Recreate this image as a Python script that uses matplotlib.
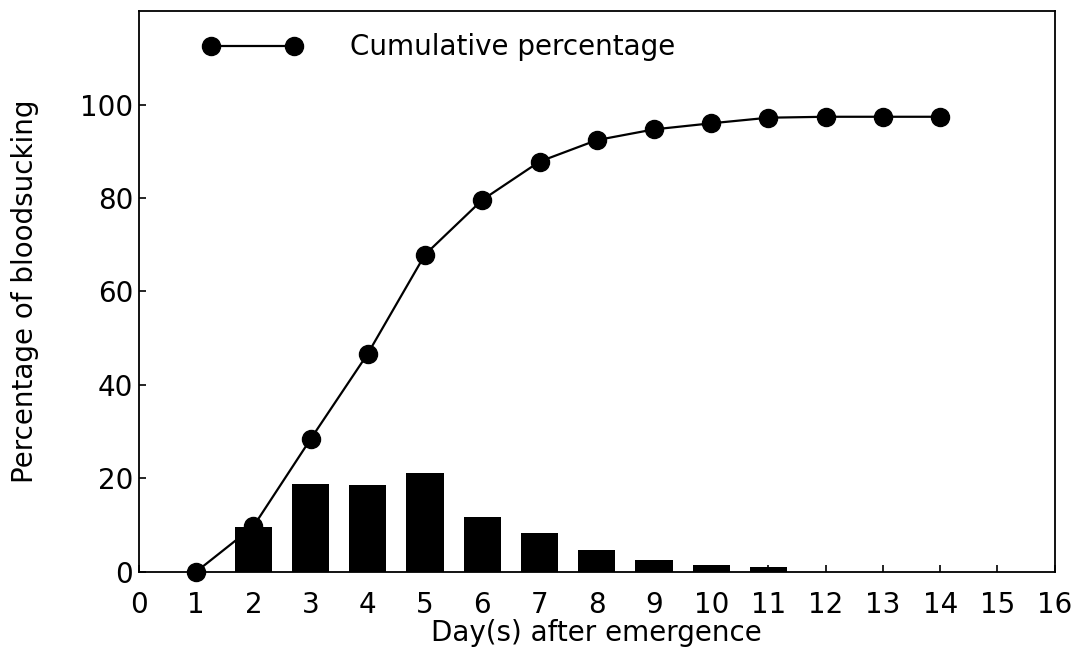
import matplotlib
matplotlib.use('Agg')
import matplotlib.pyplot as plt

# days after emergence
days = [1, 2, 3, 4, 5, 6, 7, 8, 9, 10, 11, 12, 13, 14]
# daily percentage of bloodsucking (bars)
daily = [0, 9.5, 18.9, 18.5, 21.2, 11.8, 8.2, 4.7, 2.5, 1.4, 1.1, 0, 0, 0]
# cumulative percentage (line)
cumulative = [0, 9.7, 28.4, 46.7, 67.9, 79.6, 87.8, 92.4, 94.7, 96.0, 97.2, 97.4, 97.4, 97.4]

xticks = list(range(0, 17))
yticks = [0, 20, 40, 60, 80, 100]

plt.rcParams['font.family'] = ['DejaVu Sans']

fig = plt.figure(figsize=(10.85, 6.58), dpi=100)
ax = fig.add_axes([0.128, 0.131, 0.844, 0.852])

ax.bar(days, daily, width=0.65, color='black', zorder=2)
ax.plot(days, cumulative, '-o', color='black', lw=1.6, markersize=13,
        label='Cumulative percentage', zorder=3, clip_on=False)

ax.set_xlim(0, 16)
ax.set_ylim(0, 120)
ax.set_xticks(xticks)
ax.set_yticks(yticks)
ax.tick_params(direction='in', labelsize=20, length=5, width=1.2)
ax.tick_params(axis='x', pad=14)
ax.tick_params(axis='y', pad=4)
for s in ax.spines.values():
    s.set_linewidth(1.3)

ax.set_xlabel('Day(s) after emergence', fontsize=20, labelpad=0)
ax.set_ylabel('Percentage of bloodsucking', fontsize=20, labelpad=30)

ax.legend(loc='upper left', frameon=False, fontsize=20, numpoints=2,
          handlelength=3.6, handletextpad=1.7, borderaxespad=0.4,
          bbox_to_anchor=(0.045, 1.0))

fig.savefig('out.png', dpi=100)
